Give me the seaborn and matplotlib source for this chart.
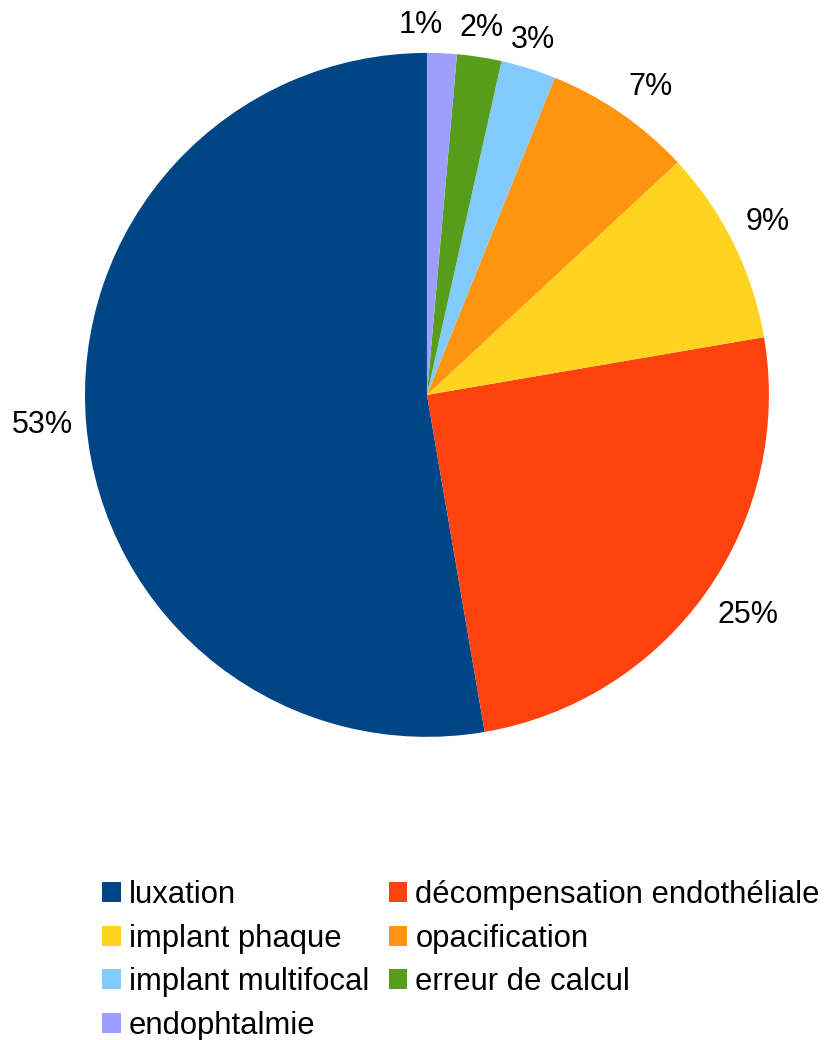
import matplotlib
matplotlib.use("Agg")
import matplotlib.pyplot as plt
import numpy as np
import seaborn as sns

# Data (percent of cases)
categories = [
    "luxation",
    "décompensation endothéliale",
    "implant phaque",
    "opacification",
    "implant multifocal",
    "erreur de calcul",
    "endophtalmie",
]
shares = [52.7, 25.0, 9.2, 7.0, 2.6, 2.1, 1.4]
colors = ["#004586", "#ff420e", "#ffd320", "#ff950e", "#83caff", "#579d1c", "#9e9eff"]

sns.set_theme(style="white")
plt.rcParams["font.family"] = ["Liberation Sans", "DejaVu Sans"]
plt.rcParams["text.color"] = "black"

fig = plt.figure(figsize=(8.26, 10.4), dpi=100)
ax = fig.add_axes([0.1029, 0.2913, 0.828, 0.658])

wedges, _, pct_texts = ax.pie(
    shares,
    colors=sns.color_palette(colors),
    startangle=90,
    counterclock=True,
    autopct="%1.0f%%",
    wedgeprops={"linewidth": 0},
    textprops={"fontsize": 22, "color": "black"},
)
ax.set_xlim(-1, 1)
ax.set_ylim(-1, 1)
ax.set_aspect("equal")

# place labels just outside the rim, anchored by the corner nearest the pie
for w, t in zip(wedges, pct_texts):
    theta = np.deg2rad((w.theta1 + w.theta2) / 2)
    c, s = np.cos(theta), np.sin(theta)
    t.set_position((1.04 * w.r * c, 1.04 * w.r * s))
    t.set_ha("left" if c > 0.4 else "right" if c < 0.1 else "center")
    t.set_va("bottom" if s > 0.4 else "top" if s < -0.4 else "center")

# legend filled row by row (matplotlib fills columns first)
order = [0, 2, 4, 6, 1, 3, 5]
fig.legend(
    [wedges[i] for i in order],
    [categories[i] for i in order],
    loc="upper left",
    bbox_to_anchor=(102 / 826, 1 - 880 / 1040),
    ncol=2,
    frameon=False,
    fontsize=22.3,
    labelcolor="black",
    handlelength=0.61,
    handleheight=0.61,
    handletextpad=0.26,
    columnspacing=0.62,
    labelspacing=0.44,
    borderpad=0,
    borderaxespad=0,
)

fig.savefig("out.png", dpi=100)
plt.close(fig)
